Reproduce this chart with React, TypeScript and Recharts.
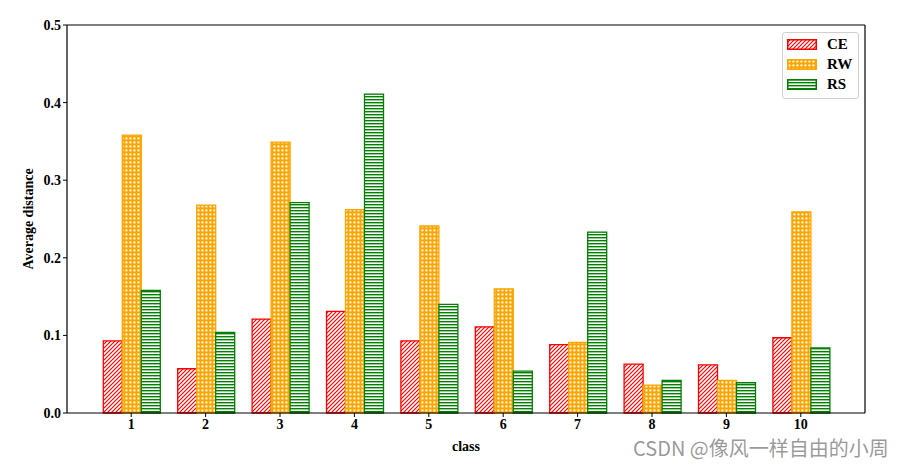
import React from 'react';
import { BarChart, Bar, XAxis, YAxis } from 'recharts';

const categories = ['1', '2', '3', '4', '5', '6', '7', '8', '9', '10'];
const ceValues = [0.093, 0.057, 0.121, 0.131, 0.093, 0.111, 0.088, 0.063, 0.062, 0.097];
const rwValues = [0.358, 0.268, 0.349, 0.262, 0.241, 0.160, 0.091, 0.036, 0.042, 0.259];
const rsValues = [0.158, 0.104, 0.271, 0.411, 0.140, 0.054, 0.233, 0.042, 0.039, 0.084];
const yTicks = [0, 0.1, 0.2, 0.3, 0.4, 0.5];

const series = [
  { key: 'CE', color: '#ff0000', fill: 'url(#patCE)' },
  { key: 'RW', color: '#ffa500', fill: 'url(#patRW)' },
  { key: 'RS', color: '#008000', fill: 'url(#patRS)' },
];

const data = categories.map((c, i) => ({ name: c, CE: ceValues[i], RW: rwValues[i], RS: rsValues[i] }));

const font = '"Liberation Serif", "Times New Roman", serif';

const LegendBox = () => (
  <div
    style={{
      position: 'absolute',
      left: 782,
      top: 32,
      width: 66,
      border: '1px solid #d0d0d0',
      borderRadius: 3,
      background: '#fff',
      padding: '1px 5px 4px 4px',
      fontFamily: font,
      fontWeight: 'bold',
      fontSize: 15,
      color: '#000',
    }}
  >
    {series.map((s) => (
      <div key={s.key} style={{ display: 'flex', alignItems: 'center', height: 20 }}>
        <svg width={30} height={11} style={{ marginRight: 10, flexShrink: 0 }}>
          <rect x={0.75} y={0.75} width={28.5} height={9.5} fill={s.fill} stroke={s.color} strokeWidth={1.5} />
        </svg>
        <span>{s.key}</span>
      </div>
    ))}
  </div>
);

export default function App() {
  return (
    <div style={{ position: 'absolute', left: 0, top: 0, width: 900, height: 467, background: '#fff' }}>
      <BarChart
        width={900}
        height={467}
        data={data}
        margin={{ top: 24, right: 34, bottom: 24, left: 0 }}
        barGap={0}
        barCategoryGap="12.5%"
      >
        <defs>
          <pattern id="patCE" patternUnits="userSpaceOnUse" width={4} height={4}>
            <rect width={4} height={4} fill="#fff" />
            <path d="M-1,1 l2,-2 M0,4 l4,-4 M3,5 l2,-2" stroke="#ff0000" strokeWidth={1.2} />
          </pattern>
          <pattern id="patRW" patternUnits="userSpaceOnUse" width={4} height={4}>
            <rect width={4} height={4} fill="#ffa500" />
            <rect x={1.4} y={1.4} width={2} height={2} fill="#fff" />
          </pattern>
          <pattern id="patRS" patternUnits="userSpaceOnUse" width={3} height={3}>
            <rect width={3} height={3} fill="#fff" />
            <rect x={0} y={0} width={3} height={1.4} fill="#008000" />
          </pattern>
        </defs>
        <XAxis
          dataKey="name"
          padding={{ left: 27, right: 27 }}
          height={30}
          tickSize={4}
          axisLine={{ stroke: '#000', strokeWidth: 1.2 }}
          tickLine={{ stroke: '#000' }}
          tick={{ fill: '#000', fontFamily: font, fontWeight: 'bold', fontSize: 14 }}
          label={{ value: 'class', position: 'insideBottom', offset: -8, fill: '#000', fontFamily: font, fontWeight: 'bold', fontSize: 14 }}
        />
        <XAxis xAxisId="top" orientation="top" dataKey="name" height={1} tick={false} tickLine={false} axisLine={{ stroke: '#000', strokeWidth: 1.2 }} />
        <YAxis
          width={67}
          domain={[0, 0.5]}
          ticks={yTicks}
          tickFormatter={(v: number) => v.toFixed(1)}
          tickSize={4}
          axisLine={{ stroke: '#000', strokeWidth: 1.2 }}
          tickLine={{ stroke: '#000' }}
          tick={{ fill: '#000', fontFamily: font, fontWeight: 'bold', fontSize: 14 }}
          label={{ value: 'Average distance', angle: -90, position: 'insideLeft', offset: 28, style: { textAnchor: 'middle' }, fill: '#000', fontFamily: font, fontWeight: 'bold', fontSize: 14 }}
        />
        <YAxis yAxisId="right" orientation="right" width={1} domain={[0, 0.5]} tick={false} tickLine={false} axisLine={{ stroke: '#000', strokeWidth: 1.2 }} />
        {series.map((s) => (
          <Bar key={s.key} dataKey={s.key} fill={s.fill} stroke={s.color} strokeWidth={1.3} isAnimationActive={false} />
        ))}
      </BarChart>
      <LegendBox />
      <div
        style={{
          position: 'absolute',
          left: 633,
          top: 435,
          fontFamily: '"Noto Sans CJK SC", "Noto Sans", sans-serif',
          fontSize: 20,
          lineHeight: '26px',
          color: 'rgba(120,120,120,0.75)',
          whiteSpace: 'nowrap',
        }}
      >
        CSDN @像风一样自由的小周
      </div>
    </div>
  );
}
